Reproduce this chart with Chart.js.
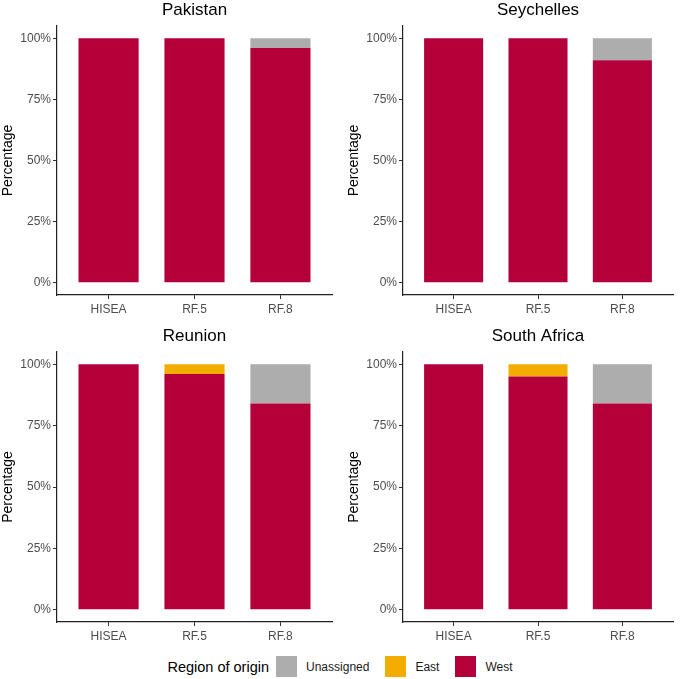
<!DOCTYPE html>
<html>
<head>
<meta charset="utf-8">
<script src="https://cdn.jsdelivr.net/npm/chart.js@4/dist/chart.umd.min.js"></script>
<style>
  body { margin: 0; background: #fff; font-family: "Liberation Sans", Arial, sans-serif; }
  #page { position: relative; width: 680px; height: 679px; }
  .panel { position: absolute; }
  #legend { position: absolute; left: 0; top: 656px; width: 680px; height: 21px;
            display: flex; justify-content: center; align-items: center; }
  #legend .ttl { font-size: 14.5px; color: #000; margin-right: 7px; }
  #legend .key { width: 21px; height: 21px; margin-right: 9px; }
  #legend .lab { font-size: 12px; color: #1a1a1a; margin-right: 16px; }
  #legend .lab:last-child { margin-right: 0; }
</style>
</head>
<body>
<div id="page">
  <div class="panel" style="left:0;top:0;width:340px;height:320px"><canvas id="c0"></canvas></div>
  <div class="panel" style="left:346px;top:0;width:335px;height:320px"><canvas id="c1"></canvas></div>
  <div class="panel" style="left:0;top:326px;width:340px;height:321px"><canvas id="c2"></canvas></div>
  <div class="panel" style="left:346px;top:326px;width:335px;height:321px"><canvas id="c3"></canvas></div>
  <div id="legend">
    <span class="ttl">Region of origin</span>
    <span class="key" style="background:#adadad"></span><span class="lab">Unassigned</span>
    <span class="key" style="background:#f2ad00"></span><span class="lab">East</span>
    <span class="key" style="background:#b4003a"></span><span class="lab">West</span>
  </div>
</div>
<script>
// data
const categories = ["HISEA", "RF.5", "RF.8"];
const sites = ["Pakistan", "Seychelles", "Reunion", "South Africa"];
const westValues = [[100, 100, 96], [100, 100, 91], [100, 96, 84], [100, 95, 84]];
const eastValues = [[0, 0, 0], [0, 0, 0], [0, 4, 0], [0, 5, 0]];
const unassignedValues = [[0, 0, 4], [0, 0, 9], [0, 0, 16], [0, 0, 16]];
const yTicks = [0, 25, 50, 75, 100];

const colWest = "#b4003a";
const colEast = "#f2ad00";
const colUnassigned = "#adadad";

// title centred over the plot panel, like ggplot
const panelTitle = {
  id: "panelTitle",
  afterDraw(chart, args, opts) {
    const { ctx, chartArea } = chart;
    ctx.save();
    ctx.font = '17px "Liberation Sans", Arial, sans-serif';
    ctx.fillStyle = "#000";
    ctx.textAlign = "center";
    ctx.textBaseline = "middle";
    ctx.fillText(opts.text, (chartArea.left + chartArea.right) / 2, 10);
    ctx.restore();
  }
};

function toPoints(vals) {
  return vals.map((v, i) => ({ x: i, y: v }));
}

function makeChart(idx) {
  const ctx = document.getElementById("c" + idx).getContext("2d");
  return new Chart(ctx, {
    type: "bar",
    data: {
      datasets: [
        { label: "West", data: toPoints(westValues[idx]), backgroundColor: colWest },
        { label: "East", data: toPoints(eastValues[idx]), backgroundColor: colEast },
        { label: "Unassigned", data: toPoints(unassignedValues[idx]), backgroundColor: colUnassigned }
      ]
    },
    options: {
      responsive: true,
      maintainAspectRatio: false,
      animation: false,
      barPercentage: 0.7,
      categoryPercentage: 1,
      borderWidth: 0,
      layout: { padding: { top: 26, right: 8, left: 0, bottom: 0 } },
      plugins: {
        legend: { display: false },
        tooltip: { enabled: false },
        panelTitle: { text: sites[idx] }
      },
      scales: {
        x: {
          type: "linear",
          stacked: true,
          offset: false,
          min: -0.6,
          max: 2.6,
          afterBuildTicks: s => { s.ticks = categories.map((c, i) => ({ value: i })); },
          afterFit: s => { s.height = 25; },
          ticks: {
            callback: v => categories[v],
            color: "#4d4d4d",
            font: { size: 12, family: '"Liberation Sans", Arial, sans-serif' },
            padding: 3,
            maxRotation: 0
          },
          grid: { display: true, offset: false, drawOnChartArea: false, drawTicks: true, tickLength: 4, color: "#333" },
          border: { display: true, color: "#222", width: 1.2 }
        },
        y: {
          stacked: true,
          min: -5,
          max: 105,
          afterBuildTicks: s => { s.ticks = yTicks.map(v => ({ value: v })); },
          afterFit: s => { s.width = 57; },
          ticks: {
            callback: v => v + "%",
            color: "#4d4d4d",
            font: { size: 12, family: '"Liberation Sans", Arial, sans-serif' },
            padding: 2
          },
          grid: { display: true, drawOnChartArea: false, drawTicks: true, tickLength: 4, color: "#333" },
          border: { display: true, color: "#222", width: 1.2 },
          title: {
            display: true,
            text: "Percentage",
            color: "#000",
            font: { size: 14, family: '"Liberation Sans", Arial, sans-serif' },
            padding: 0
          }
        }
      }
    },
    plugins: [panelTitle]
  });
}

sites.forEach((s, i) => makeChart(i));
</script>
</body>
</html>
